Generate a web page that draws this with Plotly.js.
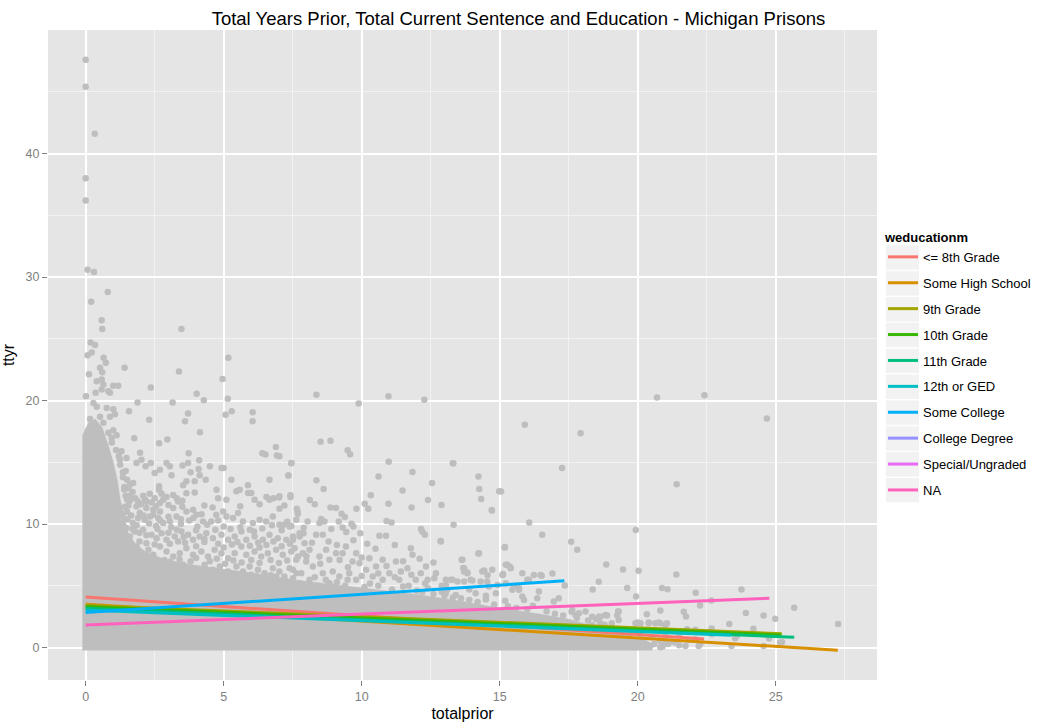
<!DOCTYPE html>
<html>
<head>
<meta charset="utf-8">
<script src="https://cdn.plot.ly/plotly-3.0.1.min.js"></script>
<style>
body { margin: 0; background: #fff; }
#chart { width: 1051px; height: 722px; }
</style>
</head>
<body>
<div id="chart"></div>
<script>
// education groups and their ggplot hue colours
var educationLevels = ["<= 8th Grade", "Some High School", "9th Grade", "10th Grade", "11th Grade",
    "12th or GED", "Some College", "College Degree", "Special/Ungraded", "NA"];
var levelColors = ["#F8766D", "#D89000", "#A3A500", "#39B600", "#00BF7D",
    "#00BFC4", "#00B0F6", "#9590FF", "#E76BF3", "#FF62BC"];

// fitted lm lines per group (start / end), null where no line is drawn
var fitStartX = [0, 0, 0, 0, 0, 0, 0, null, null, 0];
var fitStartY = [4.09, 3.52, 3.42, 3.32, 3.18, 3.05, 2.84, null, null, 1.84];
var fitEndX = [22.4, 27.25, 25.22, 25.2, 25.67, 23.39, 17.34, null, null, 24.77];
var fitEndY = [0.70, -0.21, 1.12, 1.02, 0.84, 1.00, 5.41, null, null, 4.00];

// outline of the area where the points overlap into a solid mass
var denseOutline = [[-0.11,-0.24],[-0.11,17.2],[0.1,18.2],[0.35,18.5],[0.6,17.8],[0.8,16.5],[1.0,15.0],
    [1.15,13.5],[1.25,12.0],[1.4,10.5],[1.55,9.2],[1.8,8.4],[2.2,7.7],[2.8,7.2],[3.6,6.8],[4.5,6.5],
    [5.5,6.2],[6.5,5.9],[7.5,5.5],[9.0,5.1],[10.5,4.7],[12.0,4.3],[13.5,3.8],[15.0,3.2],[16.5,2.7],
    [17.5,2.3],[18.5,1.7],[19.5,1.1],[20.3,0.6],[20.6,0.2],[20.5,-0.24]];

// individual points (totalprior, ttyr) outside the solid mass
var loosePoints = [
    [0,47.6],[0,45.4],[0.33,41.6],[0,38.0],[0,36.2],[0.07,30.6],[0.3,30.4],[0.8,28.8],[0.2,28.0],[0.58,26.5],
    [0.6,25.8],[3.47,25.8],[0.18,24.7],[0.34,24.5],[0.22,23.9],[0.07,23.66],[0.65,23.47],[5.17,23.47],[0.73,23.06],
    [1.41,22.66],[0.12,22.14],[0.52,22.66],[0.6,22.3],[0.4,21.57],[0.58,21.7],[0.64,21.3],[1.0,21.2],[1.18,21.2],
    [2.36,21.06],[3.38,22.36],[4.96,21.74],[0.01,20.36],[0.36,20.63],[0.58,20.9],[0.82,20.76],[0.88,20.63],
    [1.88,19.85],[3.15,19.85],[4.02,20.55],[4.28,20.03],[5.15,20.15],[1.57,19.14],[2.3,18.44],[3.71,18.95],
    [3.6,18.33],[5.07,18.85],[5.29,19.14],[6.05,19.06],[6.05,18.33],[4.14,17.44],[1.76,16.95],[2.66,16.55],
    [2.96,16.84],[6.89,16.25],
    [0.28,19.8],[0.4,19.5],[0.76,19.4],[1.0,19.3],[1.06,18.9],[0.52,18.7],[0.88,18.7],[0.16,18.5],[0.28,17.9],
    [0.64,18.2],[1.0,17.6],[1.12,17.2],[0.94,17.0],[0.82,17.4],[0.1,17.6],
    [1.1,16.0],[1.2,15.5],[1.25,14.8],[1.35,13.8],[1.4,12.8],[0.95,16.6],[1.3,15.9],[1.45,14.3],[1.5,13.6],
    [1.55,12.9],[1.6,11.9],[1.4,13.0],[1.35,14.2],[1.5,12.0],[1.42,11.4],[1.35,10.8],
    [3.73,15.73],[6.4,15.73],[6.51,15.63],[6.93,15.55],[7.45,14.95],[1.97,15.77],[1.24,15.22],[1.48,15.36],
    [1.84,14.95],[2.02,15.22],[2.17,14.68],[2.36,14.95],[2.93,14.95],[3.05,14.68],[3.11,13.95],[2.5,14.14],
    [2.69,14.41],[3.51,14.74],[3.71,14.95],[3.8,14.19],[4.11,15.17],[4.09,14.47],[4.13,13.95],[4.5,14.68],
    [4.92,14.55],[5.0,14.55],[5.28,13.6],[5.88,13.14],[6.66,13.6],[7.34,13.93],[3.65,13.46],[3.95,13.46],
    [4.35,13.6],[3.53,13.14],[2.66,13.06],[2.66,12.79],[1.6,13.2],[1.72,13.33],[4.74,12.79],[5.46,12.65],
    [5.58,12.79],[5.88,12.52],[6.0,12.52],[2.08,12.3],[2.32,12.45],[2.93,12.2],[3.17,12.35],[3.65,12.5],
    [3.95,12.55],[4.8,12.1],[6.55,12.2],[6.8,12.1],[7.0,12.15],[7.42,12.2],[1.45,12.3],[1.7,12.6],
    [1.6,12.3],[1.8,12.1],[2.15,12.0],[2.5,12.1],[2.75,12.45],[3.3,12.1],[3.5,11.9],
    [1.9,11.8],[2.2,11.8],[2.39,11.75],[2.69,11.7],[2.81,11.98],[3.35,11.84],[3.17,11.3],[2.69,11.03],
    [2.45,11.16],[2.2,11.3],[1.84,11.43],[5.1,11.98],[6.12,11.98],[6.66,11.98],[7.68,11.03],
    [1.55,11.5],[2.0,11.6],[2.55,11.45],[3.0,11.55],[3.5,11.4],[4.3,11.5],[4.6,11.35],[5.6,11.45],[6.3,11.6],
    [7.2,11.5],[8.3,11.6],[1.5,11.0],
    [1.65,10.7],[1.9,10.5],[2.1,10.7],[2.45,10.75],[2.7,10.3],[3.0,10.6],[3.45,10.4],[3.9,10.5],[4.2,10.8],
    [1.96,10.89],[2.14,10.35],[2.33,10.62],[2.63,10.49],[2.81,10.08],[3.05,10.22],[3.29,10.62],[3.65,11.03],
    [3.89,11.16],[4.01,10.76],[4.25,10.22],[4.55,10.22],[4.73,10.76],[4.98,11.03],[5.1,10.62],[5.34,10.49],
    [5.52,10.89],[5.7,10.22],[6.06,10.08],[6.3,10.35],[6.54,10.22],[6.78,10.62],[7.02,9.95],[7.39,9.81],[7.63,10.35],
    [1.5,10.4],[1.7,10.1],[1.85,9.9],[2.3,10.05],[2.55,9.85],[3.1,9.75],[3.45,10.0],[3.75,10.3],[4.05,9.8],
    [4.4,9.95],[4.8,10.3],[5.0,9.8],[5.6,9.75],[5.95,9.55],[6.4,9.65],[6.75,9.9],[7.3,10.2],[7.9,9.7],[8.9,9.6],[9.7,9.8],
    [1.7,9.6],[1.95,9.3],[2.2,9.1],[2.6,9.6],[3.0,9.3],[3.3,9.55],[3.55,8.95],[4.0,9.5],[4.3,8.8],[4.7,9.55],
    [5.25,9.6],[5.5,8.55],[6.1,9.4],[6.3,8.1],[6.8,8.6],[7.1,9.5],
    [1.48,9.68],[1.6,9.0],[1.78,9.41],[2.08,9.54],[2.39,9.14],[2.57,8.86],[2.75,9.27],[2.93,8.73],[3.23,9.0],
    [3.47,9.41],[3.71,9.14],[3.89,8.73],[4.13,9.0],[4.37,9.27],[4.61,8.86],[4.92,9.14],[5.16,8.73],[5.4,9.0],
    [5.64,9.41],[5.82,8.73],[6.12,9.0],[6.42,8.73],[6.66,9.14],[6.96,8.86],[7.27,8.73],[7.51,9.0],[7.75,9.27],
    [1.45,8.95],[1.95,8.6],[2.2,8.45],[2.5,8.35],[3.05,8.4],[3.35,8.6],[3.6,8.5],[4.0,8.2],[4.3,8.55],[4.8,8.4],
    [5.0,8.1],[5.3,8.35],[5.95,8.25],[6.25,8.5],[6.55,8.3],[7.1,8.2],[7.4,8.4],[8.2,8.5],[8.8,8.6],[9.1,8.3],
    [9.7,8.7],[10.2,8.4],[10.5,8.0],[11.2,8.3],
    [1.3,8.46],[1.6,7.92],[1.84,8.19],[2.02,7.65],[2.27,7.92],[2.45,7.51],[2.69,8.19],[2.93,7.78],[3.17,7.38],
    [3.41,7.65],[3.65,8.05],[3.89,7.51],[4.19,7.78],[4.43,7.38],[4.67,7.92],[4.92,7.65],[5.16,7.24],[5.4,7.65],
    [5.64,8.19],[5.82,7.51],[6.12,7.78],[6.36,7.38],[6.6,7.65],[6.9,7.92],[7.14,7.51],[7.45,7.78],[7.69,7.38],
    [1.45,7.4],[1.75,7.2],[2.05,7.05],[2.4,7.2],[2.85,7.1],[3.05,6.95],[3.4,7.15],[3.8,7.0],[4.0,7.25],[4.5,7.0],
    [4.75,7.2],[5.05,6.8],[5.35,7.05],[5.65,6.9],[6.0,7.1],[6.3,6.85],[6.7,7.1],[7.0,6.85],[7.3,7.05],[8.0,7.4],
    [8.5,6.8],[9.2,7.1],[9.5,6.5],[10.0,7.3],[10.9,6.6],[11.5,7.0],[12.1,7.2],[12.6,6.9],
    [1.66,6.84],[1.96,6.57],[2.2,6.97],[2.51,6.43],[2.69,6.84],[3.05,6.57],[3.29,6.16],[3.53,6.7],[3.83,6.43],
    [4.07,6.16],[4.31,6.7],[4.61,6.3],[4.86,6.57],[5.16,6.16],[5.46,6.57],[5.7,6.16],[5.94,6.57],[6.24,6.3],
    [6.48,6.03],[6.78,6.43],[7.02,6.16],[7.39,6.43],[7.63,6.03],
    [1.55,6.3],[1.75,6.1],[2.3,6.2],[2.85,6.05],[3.15,5.95],[3.6,6.0],[3.95,5.85],[4.45,5.95],[4.9,5.9],[5.3,6.0],
    [5.55,5.85],[6.0,5.9],[6.7,5.85],[7.2,5.75],[8.3,5.7],[8.7,5.5],[9.1,5.3],[10.0,5.8],[10.6,6.0],[11.2,5.7],
    [11.8,5.9],[12.3,5.2],[12.9,5.0],[13.9,4.7],
    [1.84,5.49],[2.14,5.76],[2.39,5.35],[2.69,5.76],[3.05,5.49],[3.41,5.89],[3.65,5.35],[4.01,5.62],[4.37,5.35],
    [4.73,5.76],[5.1,5.35],[5.34,5.62],[5.82,5.49],[6.18,5.76],[6.54,5.49],[6.9,5.76],[7.27,5.35],[7.51,5.62],
    [1.7,5.2],[2.0,5.1],[2.6,5.15],[2.85,5.3],[3.3,5.1],[3.9,5.2],[4.2,5.15],[4.6,5.25],[5.5,5.2],[6.0,5.15],
    [6.35,5.25],[6.7,5.1],[7.05,5.2],[8.0,5.1],[9.4,5.0],[10.3,5.2],[11.7,5.0],
    [7.51,8.73],[7.75,9.0],[7.93,8.46],[7.57,8.05],[7.87,7.65],[8.11,7.92],[7.63,7.11],[7.99,6.97],[7.51,6.3],
    [7.81,6.03],[8.23,6.57],[8.47,7.38],[8.71,7.92],[8.83,7.11],[9.07,7.65],[9.31,7.65],[9.43,8.19],[9.8,7.65],
    [9.67,6.97],[8.95,6.16],[8.59,6.03],[9.19,5.76],[9.55,6.03],[9.92,6.84],[8.11,5.49],[8.83,5.22],[9.49,5.49],
    [7.75,5.22],[9.8,5.49],[10.28,7.24],[10.52,6.57],[10.76,7.11],[11.0,6.03],[11.24,6.97],[11.42,6.16],
    [11.66,6.43],[11.78,8.05],[11.84,7.51],[12.14,6.03],[12.33,6.57],[11.96,5.49],[11.36,5.49],[10.76,5.49],
    [10.4,5.76],[10.16,6.3],[12.39,5.49],[12.69,6.03],[12.87,8.59],[12.63,5.62],[13.05,5.49],[13.29,5.49],
    [13.65,7.11],[13.71,6.43],[13.83,6.03],[13.95,5.49],[14.25,7.65],[14.37,6.16],[14.55,5.35],[14.73,6.3],
    [15.1,5.89],[15.19,8.14],[15.28,6.7],[15.4,6.43],[15.7,4.81],[15.82,4.14],[16.0,5.49],[15.82,6.03],
    [14.86,4.41],[14.13,4.41],[13.41,4.27],[13.05,4.41],
    [10.1,4.9],[10.6,5.0],[11.1,4.7],[11.5,4.95],[12.0,4.6],[12.4,4.8],[12.9,4.5],[9.0,4.9],[8.4,5.0],[7.7,4.95],
    [13.6,4.0],[14.5,3.9],[15.2,3.8],
    [12.2,4.5],[12.6,4.35],[13.0,4.2],[13.3,4.05],[13.9,3.85],[14.2,3.7],[14.8,3.5],[15.3,3.35],[15.6,3.2],
    [16.0,3.1],[16.7,2.95],[17.0,2.75],[17.3,2.6],[17.8,2.4],[18.2,2.2],[18.8,1.85],[19.0,1.6],[19.4,1.45],
    [19.8,1.25],[20.1,1.0],[20.5,0.85],[20.8,0.55],[21.1,0.3],[20.9,0.1],[21.5,0.2],[19.7,0.9],[16.2,3.4],
    [14.5,4.2],[13.1,4.7],[17.6,2.9],[18.5,2.3],
    [8.36,20.47],[9.89,19.76],[10.97,20.36],[12.27,20.06],[8.51,16.66],[8.87,16.74],[9.49,15.98],[9.58,15.65],
    [7.45,14.92],[10.98,15.04],[13.3,14.92],[7.35,13.93],[8.36,13.55],[8.62,12.85],[10.61,13.85],[11.84,14.22],
    [12.55,13.33],[11.48,12.73],[14.23,13.85],[14.26,12.85],[14.33,12.04],[14.72,11.11],[14.98,12.65],[7.02,15.49],
    [7.42,12.33],[7.02,12.25],[7.02,11.25],[8.12,11.95],[7.65,11.25],[7.69,10.84],[8.87,11.35],[9.07,11.3],
    [9.27,10.84],[9.39,10.57],[10.11,11.65],[10.24,11.25],[9.81,11.25],[10.33,12.33],[10.97,11.65],[11.81,11.35],
    [12.4,11.95],[12.89,11.55],[10.9,10.25],[11.08,10.14],[12.15,9.6],[12.2,9.38],[12.29,9.14],[13.33,9.95],
    [9.63,10.03],[9.17,10.22],[9.31,9.73],[9.44,9.36],[9.95,9.25],[8.04,10.22],[8.53,10.41],[8.65,10.22],
    [8.47,10.09],[7.17,9.95],[7.45,9.85],[7.89,9.25],[8.35,9.14],[8.59,9.14],[10.64,9.06],[10.88,9.06],
    [20.7,20.25],[22.42,20.44],[24.68,18.55],[15.91,18.04],[17.93,17.36],[13.32,14.92],[17.26,14.55],[15.05,12.63],
    [14.71,11.14],[21.41,13.22],[16.07,10.14],[16.54,9.14],[19.93,9.52],[17.59,8.57],[17.81,7.92],[12.86,8.63],
    [15.18,8.11],[14.23,7.62],[13.62,7.11],[18.86,6.73],[19.47,6.33],[20.03,6.22],[21.4,5.92],[15.22,6.71],
    [15.37,6.55],[13.68,6.44],[13.71,6.17],[13.83,6.09],[14.44,6.25],[14.56,5.87],[15.12,5.92],[16.52,5.82],
    [16.91,6.0],[17.36,5.03],[18.59,5.33],[18.37,4.7],[19.62,4.82],[19.94,4.14],[20.88,4.82],[21.08,4.73],
    [22.1,4.44],[23.76,4.71],[22.26,3.41],[22.67,3.81],[20.82,3.0],[20.33,2.71],[19.29,2.92],[19.26,2.6],
    [23.92,2.81],[24.56,2.6],[24.98,2.33],[25.67,3.22],[27.26,1.92],[21.67,2.9],[21.75,2.52],[23.32,1.92],
    [24.19,1.52],[22.68,1.54],[22.09,1.44],[24.76,0.73],[25.23,0.46],[23.4,0.14],[24.56,0.14],[20.82,0.03],
    [21.73,0.14],[22.21,0.14],[20.04,0.08],[20.16,0.14],[20.0,2.03],[20.4,2.03],[20.76,2.03],[21.0,1.84],
    [18.89,2.6],[18.65,2.51],[21.79,1.49],[22.27,0.3],[23.53,0.76],[23.59,0.95],[25.16,0.41],[20.94,0.49],
    [21.24,0.49],[21.36,0.41],[21.85,0.62],[22.09,0.68],[22.69,1.09],[20.6,0.3],[21.0,0.9],[21.5,1.1],
    [15.12,5.97],[16.06,5.49],[16.24,5.89],[16.48,5.89],[16.42,4.54],[16.36,4.0],[15.88,3.86],[15.7,4.68],
    [15.52,4.95],[17.14,4.0],[16.96,3.73],[17.63,3.05],[17.75,2.65],[17.87,2.78],[18.11,2.92],[18.35,2.51],
    [18.59,2.51],[18.83,2.65],[19.31,2.92],[19.31,2.24],[19.06,1.97],[18.65,1.97],[18.35,1.84],[19.92,1.97],
    [20.1,1.97],[20.4,1.97],[20.64,1.97],[20.82,1.97],[21.06,1.97],[13.05,5.08],[13.23,5.49],[13.47,5.35],
    [13.71,5.35],[14.01,5.43],[14.31,5.35],[14.61,4.95],[14.92,5.08],[15.22,5.22],[15.46,4.68]
];

var pointGrey = "#BEBEBE";

var data = [];

// solid mass of overlapping points
data.push({
    x: denseOutline.map(p => p[0]),
    y: denseOutline.map(p => p[1]),
    type: 'scatter',
    mode: 'lines',
    fill: 'toself',
    fillcolor: pointGrey,
    line: {color: pointGrey, width: 0.5},
    showlegend: false,
    hoverinfo: 'skip'
});

// single points
data.push({
    x: loosePoints.map(p => p[0]),
    y: loosePoints.map(p => p[1]),
    type: 'scatter',
    mode: 'markers',
    marker: {color: pointGrey, size: 6.5},
    showlegend: false
});

// one fitted line per education level (groups without a line still get a legend key)
educationLevels.forEach(function(level, i) {
    data.push({
        x: [fitStartX[i], fitEndX[i]],
        y: [fitStartY[i], fitEndY[i]],
        type: 'scatter',
        mode: 'lines',
        name: level,
        legendgroup: 'g' + i,
        line: {color: levelColors[i], width: 3}
    });
});

// grey key boxes behind the legend entries (pixel positions of the page)
function paperX(px) { return (px - 48) / 829; }
function paperY(px) { return (680 - px) / 650; }
var shapes = [];
for (var i = 0; i < educationLevels.length; i++) {
    var cy = 257.5 + 25.85 * i;
    shapes.push({
        type: 'rect', xref: 'paper', yref: 'paper', layer: 'below',
        x0: paperX(886), x1: paperX(919), y0: paperY(cy + 12.2), y1: paperY(cy - 12.2),
        fillcolor: '#F2F2F2', line: {width: 0}
    });
}

var layout = {
    width: 1051,
    height: 722,
    margin: {l: 48, r: 174, t: 30, b: 42},
    paper_bgcolor: 'white',
    plot_bgcolor: '#E5E5E5',
    font: {family: 'Liberation Sans, Arial, sans-serif', color: 'black'},
    title: {
        text: 'Total Years Prior, Total Current Sentence and Education - Michigan Prisons',
        font: {size: 18.5, color: 'black'},
        xref: 'container', x: 0.4933, xanchor: 'center',
        yref: 'container', y: 1 - 19 / 722, yanchor: 'middle'
    },
    xaxis: {
        range: [-1.365, 28.67],
        tickvals: [0, 5, 10, 15, 20, 25],
        ticks: 'outside', ticklen: 5, tickwidth: 1, tickcolor: '#7F7F7F',
        tickfont: {size: 12.5, color: '#7F7F7F'},
        gridcolor: 'white', gridwidth: 1.6,
        minor: {dtick: 2.5, tick0: 0, showgrid: true, gridcolor: '#F2F2F2', gridwidth: 0.8},
        zeroline: false, showline: false,
        title: {text: 'totalprior', font: {size: 16}, standoff: 6}
    },
    yaxis: {
        range: [-2.62, 50.0],
        tickvals: [0, 10, 20, 30, 40],
        ticks: 'outside', ticklen: 5, tickwidth: 1, tickcolor: '#7F7F7F',
        tickfont: {size: 12.5, color: '#7F7F7F'},
        gridcolor: 'white', gridwidth: 1.6,
        minor: {dtick: 5, tick0: 0, showgrid: true, gridcolor: '#F2F2F2', gridwidth: 0.8},
        zeroline: false, showline: false,
        title: {text: 'ttyr', font: {size: 16}, standoff: 10}
    },
    showlegend: true,
    legend: {
        x: paperX(883), xanchor: 'left',
        y: paperY(225), yanchor: 'top',
        bgcolor: 'rgba(0,0,0,0)',
        font: {size: 13, color: 'black'},
        title: {text: '<b>weducationm</b>', font: {size: 13}},
        tracegroupgap: 6
    },
    shapes: shapes
};

Plotly.newPlot('chart', data, layout, {displayModeBar: false});
</script>
</body>
</html>
